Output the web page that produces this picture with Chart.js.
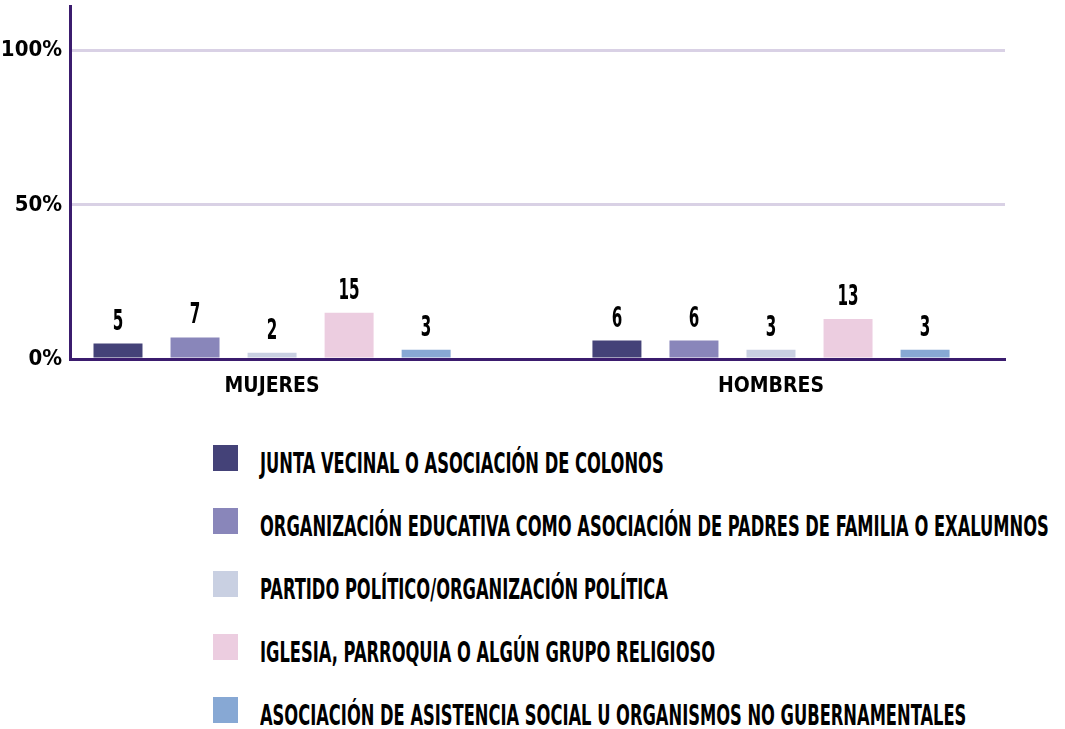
<!DOCTYPE html>
<html>
<head>
<meta charset="utf-8">
<script src="https://cdn.jsdelivr.net/npm/chart.js@4/dist/chart.umd.min.js"></script>
<style>
  body { margin: 0; background: #fff; font-family: "DejaVu Sans Condensed", "DejaVu Sans", sans-serif; }
  #wrap { position: relative; width: 1065px; height: 410px; }
  #legend { list-style: none; margin: 0; padding: 0; position: absolute; left: 213px; top: 445px; }
  #legend li { height: 63px; display: flex; align-items: flex-start; }
  #legend .box { width: 25px; height: 26px; margin-right: 22px; flex: none; }
  #legend .txt { font-weight: bold; font-size: 29px; line-height: 26px; color: #000; white-space: nowrap;
                 display: inline-block; position: relative; top: 5px; transform: scaleX(0.625); transform-origin: left top; }
</style>
</head>
<body>
<div id="wrap"><canvas id="chart"></canvas></div>
<ul id="legend"></ul>
<script>
// categorías y series (porcentajes)
const categories = ["MUJERES", "HOMBRES"];
const seriesNames = [
  "JUNTA VECINAL O ASOCIACIÓN DE COLONOS",
  "ORGANIZACIÓN EDUCATIVA COMO ASOCIACIÓN DE PADRES DE FAMILIA O EXALUMNOS",
  "PARTIDO POLÍTICO/ORGANIZACIÓN POLÍTICA",
  "IGLESIA, PARROQUIA O ALGÚN GRUPO RELIGIOSO",
  "ASOCIACIÓN DE ASISTENCIA SOCIAL U ORGANISMOS NO GUBERNAMENTALES"
];
const juntaVecinal = [5, 6];
const orgEducativa = [7, 6];
const partidoPolitico = [2, 3];
const iglesia = [15, 13];
const asistenciaSocial = [3, 3];
const yTicks = [0, 50, 100];

const colors = ["#444278", "#8986ba", "#c9d0e2", "#eccde0", "#87a8d4"];
const values = [juntaVecinal, orgEducativa, partidoPolitico, iglesia, asistenciaSocial];
const FONT = '"DejaVu Sans Condensed", "DejaVu Sans", sans-serif';

// etiquetas de valor sobre las barras (letra condensada a mano)
const valueLabels = {
  id: "valueLabels",
  afterDatasetsDraw(chart) {
    const ctx = chart.ctx;
    chart.data.datasets.forEach((ds, i) => {
      chart.getDatasetMeta(i).data.forEach((bar, j) => {
        ctx.save();
        ctx.font = "bold 29px " + FONT;
        ctx.fillStyle = "#000";
        ctx.textAlign = "center";
        ctx.textBaseline = "alphabetic";
        ctx.translate(bar.x, bar.y - 14);
        ctx.scale(0.58, 1);
        ctx.fillText(ds.data[j].y, 0, 0);
        ctx.restore();
      });
    });
  }
};

const chart = new Chart(document.getElementById("chart"), {
  type: "bar",
  data: {
    datasets: seriesNames.map((name, i) => ({
      label: name,
      backgroundColor: colors[i],
      data: values[i].map((v, k) => ({ x: k, y: v })),
      categoryPercentage: 0.772,
      barPercentage: 0.636
    }))
  },
  options: {
    responsive: true,
    maintainAspectRatio: false,
    animation: false,
    layout: { padding: { top: 6, right: 60, left: 0, bottom: 0 } },
    plugins: { legend: { display: false }, tooltip: { enabled: false } },
    scales: {
      x: {
        type: "linear",
        offset: false,
        min: -0.405,
        max: 1.469,
        afterBuildTicks: (s) => { s.ticks = categories.map((c, k) => ({ value: k })); },
        afterFit: (s) => { s.height = 51; },
        ticks: {
          callback: (v) => categories[v],
          color: "#000",
          font: { family: FONT, size: 21, weight: "bold" },
          padding: 15
        },
        grid: { display: false, drawTicks: false },
        border: { color: "#3b1c6e", width: 3 }
      },
      y: {
        min: 0,
        max: 114.5,
        afterBuildTicks: (s) => { s.ticks = yTicks.map(v => ({ value: v })); },
        afterFit: (s) => { s.width = 70; s.paddingTop = 0; },
        ticks: {
          callback: (v) => v + "%",
          color: "#000",
          font: { family: FONT, size: 22, weight: "bold" },
          padding: 8
        },
        grid: { color: (c) => c.tick.value === 0 ? "rgba(0,0,0,0)" : "#d9d1e5", lineWidth: 3, drawTicks: false },
        border: { color: "#3b1c6e", width: 3 }
      }
    }
  },
  plugins: [valueLabels]
});

// leyenda en HTML a partir de los datasets
const legendEl = document.getElementById("legend");
chart.data.datasets.forEach((ds) => {
  const li = document.createElement("li");
  li.innerHTML = `<span class="box" style="background:${ds.backgroundColor}"></span><span class="txt">${ds.label}</span>`;
  legendEl.appendChild(li);
});
</script>
</body>
</html>
